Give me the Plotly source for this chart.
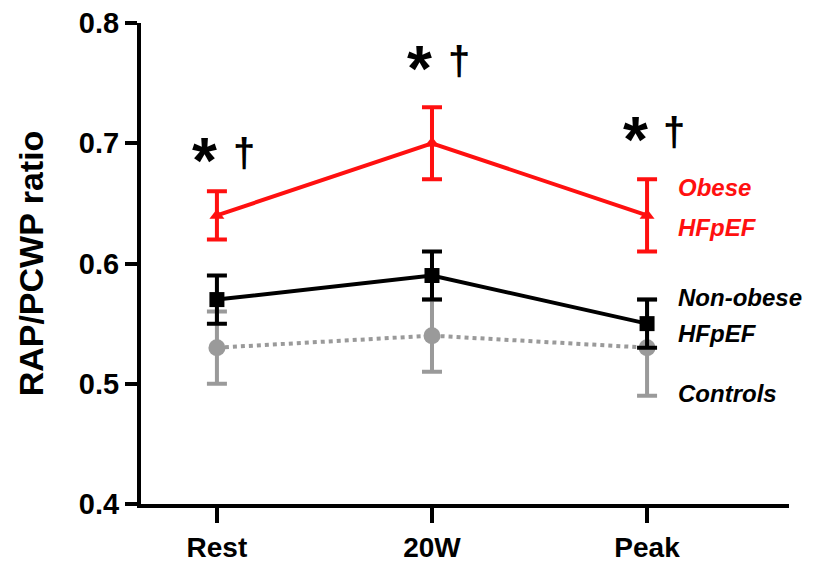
import plotly.graph_objects as go

categories = ["Rest", "20W", "Peak"]
obese = [0.64, 0.70, 0.64]
obese_err = [0.02, 0.03, 0.03]
nonobese = [0.57, 0.59, 0.55]
nonobese_err = [0.02, 0.02, 0.02]
controls = [0.53, 0.54, 0.53]
controls_err = [0.03, 0.03, 0.04]
y_ticks = [0.4, 0.5, 0.6, 0.7, 0.8]
sig_y = [0.692, 0.768, 0.709]

xs = [0, 1, 2]
RED = "#ff1010"
GRAY = "#9a9a9a"
FONT = "Liberation Sans, Arial, sans-serif"

fig = go.Figure()
fig.add_trace(go.Scatter(
    x=xs, y=controls, mode="lines+markers",
    line=dict(color=GRAY, width=4, dash="dot"),
    marker=dict(symbol="circle", size=17, color=GRAY),
    error_y=dict(type="data", array=controls_err, color=GRAY, thickness=4, width=10),
    name="Controls"))
fig.add_trace(go.Scatter(
    x=xs, y=nonobese, mode="lines+markers",
    line=dict(color="black", width=4),
    marker=dict(symbol="square", size=15, color="black"),
    error_y=dict(type="data", array=nonobese_err, color="black", thickness=4, width=10),
    name="Non-obese HFpEF"))
fig.add_trace(go.Scatter(
    x=xs, y=obese, mode="lines+markers",
    line=dict(color=RED, width=4),
    marker=dict(symbol="triangle-up", size=13, color=RED),
    error_y=dict(type="data", array=obese_err, color=RED, thickness=4, width=10),
    name="Obese HFpEF"))

for i, yv in enumerate(sig_y):
    fig.add_annotation(x=xs[i], y=yv, text="<b>*</b>", showarrow=False,
                       font=dict(family=FONT, size=64, color="black"),
                       xshift=-12, yshift=-8)
    fig.add_annotation(x=xs[i], y=yv, text="<b>†</b>", showarrow=False,
                       font=dict(family=FONT, size=40, color="black"),
                       xshift=27, yshift=0)

labels = [
    (0.663, "Obese", RED),
    (0.630, "HFpEF", RED),
    (0.572, "Non-obese", "black"),
    (0.542, "HFpEF", "black"),
    (0.492, "Controls", "black"),
]
for yv, t, c in labels:
    fig.add_annotation(x=xs[2], y=yv, text="<b><i>%s</i></b>" % t, showarrow=False,
                       xanchor="left", xshift=29,
                       font=dict(family=FONT, size=24, color=c))

fig.update_layout(
    width=837, height=562,
    margin=dict(l=141, r=48, t=23, b=58),
    paper_bgcolor="white", plot_bgcolor="white",
    showlegend=False,
    font=dict(family=FONT, color="black"),
)
fig.update_xaxes(
    range=[-0.353, 2.66], tickmode="array", tickvals=xs,
    ticktext=["<b>%s</b>" % c for c in categories],
    showgrid=False, zeroline=False, showline=True, linecolor="black", linewidth=4,
    ticks="outside", ticklen=15, tickwidth=4, tickcolor="black",
    tickfont=dict(family=FONT, size=28, color="black"),
    ticklabelstandoff=0, automargin=False,
)
fig.update_yaxes(
    range=[0.4, 0.8], tickmode="array", tickvals=y_ticks,
    ticktext=["<b>%.1f</b>" % v for v in y_ticks],
    showgrid=False, zeroline=False, showline=True, linecolor="black", linewidth=4,
    ticks="outside", ticklen=12, tickwidth=4, tickcolor="black",
    tickfont=dict(family=FONT, size=29, color="black"),
    title=dict(text="<b>RAP/PCWP ratio</b>", font=dict(family=FONT, size=34, color="black"), standoff=26),
    automargin=False,
)
fig.write_html("out.html")
